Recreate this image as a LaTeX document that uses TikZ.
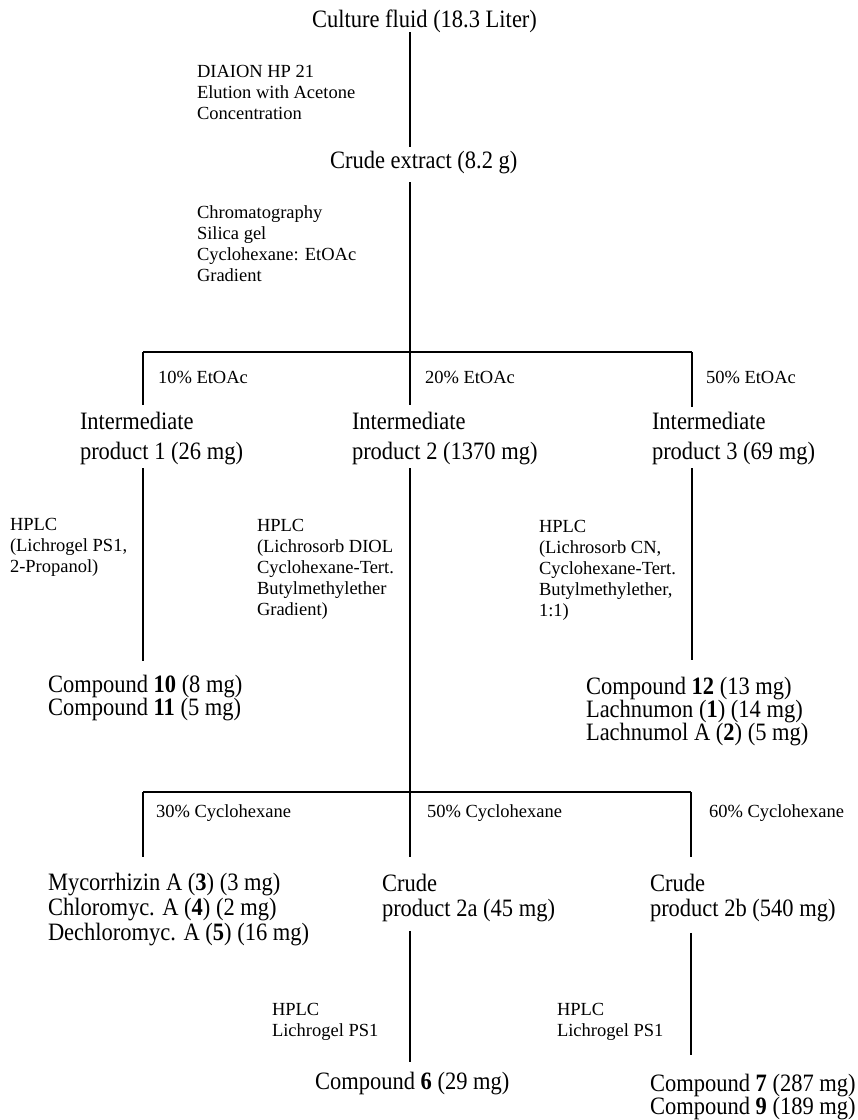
\documentclass[tikz,border=0pt]{standalone}
\usepackage{fontspec}
\setmainfont{Liberation Serif}[FakeStretch=0.9]
\newfontfamily\smallf{Liberation Serif}
\begin{document}
\begin{tikzpicture}[x=1pt,y=-1pt,
  main/.style={anchor=west, inner sep=0pt, outer sep=0pt, align=left, font=\fontsize{25}{23}\selectfont},
  note/.style={anchor=west, inner sep=0pt, outer sep=0pt, align=left, font=\smallf\fontsize{18.5}{21}\selectfont},
  conn/.style={line width=1.3pt, line cap=butt}]
\useasboundingbox (0,0) rectangle (858,1120);
\fill[white] (0,0) rectangle (858,1120);

\coordinate (b1) at (410,352);
\coordinate (b1l) at (143,352);
\coordinate (b1r) at (692,352);
\coordinate (b2) at (410,792);
\coordinate (b2l) at (143,792);
\coordinate (b2r) at (691,792);

% main nodes
\node[main] (cf) at (312,21) {Culture fluid (18.3 Liter)};
\node[main] (ce) at (330,163) {Crude extract (8.2 g)};
\node[main, font=\fontsize{25}{30}\selectfont] (i1) at (80,439) {Intermediate\\product 1 (26 mg)};
\node[main, font=\fontsize{25}{30}\selectfont] (i2) at (352,439) {Intermediate\\product 2 (1370 mg)};
\node[main, font=\fontsize{25}{30}\selectfont] (i3) at (652,439) {Intermediate\\product 3 (69 mg)};
\node[main, font=\fontsize{25}{23}\selectfont] (c1011) at (48,698) {Compound \textbf{10} (8 mg)\\Compound \textbf{11} (5 mg)};
\node[main] (c12) at (586,712) {Compound \textbf{12} (13 mg)\\Lachnumon (\textbf{1}) (14 mg)\\Lachnumol A (\textbf{2}) (5 mg)};
\node[main, font=\fontsize{25}{25}\selectfont] (m345) at (48,910) {Mycorrhizin A (\textbf{3}) (3 mg)\\Chloromyc. A (\textbf{4}) (2 mg)\\Dechloromyc. A (\textbf{5}) (16 mg)};
\node[main, font=\fontsize{25}{25}\selectfont] (cp2a) at (382,898) {Crude\\product 2a (45 mg)};
\node[main, font=\fontsize{25}{25}\selectfont] (cp2b) at (650,898) {Crude\\product 2b (540 mg)};
\node[main] (c6) at (315,1084) {Compound \textbf{6} (29 mg)};
\node[main] (c79) at (650,1097) {Compound \textbf{7} (287 mg)\\Compound \textbf{9} (189 mg)};

% notes
\node[note] (s1) at (197,92) {DIAION HP 21\\Elution with Acetone\\Concentration};
\node[note] (s2) at (197,244) {Chromatography\\Silica gel\\Cyclohexane: EtOAc\\Gradient};
\node[note] (l10) at (158,377) {10\% EtOAc};
\node[note] (l20) at (425,377) {20\% EtOAc};
\node[note] (l50) at (706,377) {50\% EtOAc};
\node[note] (h1) at (10,547) {HPLC\\(Lichrogel PS1,\\2-Propanol)};
\node[note] (h2) at (257,569) {HPLC\\(Lichrosorb DIOL\\Cyclohexane-Tert.\\Butylmethylether\\Gradient)};
\node[note] (h3) at (539,570) {HPLC\\(Lichrosorb CN,\\Cyclohexane-Tert.\\Butylmethylether,\\1:1)};
\node[note] (l30) at (156,813) {30\% Cyclohexane};
\node[note] (l50c) at (427,813) {50\% Cyclohexane};
\node[note] (l60) at (709,813) {60\% Cyclohexane};
\node[note] (h4) at (272,1022) {HPLC\\Lichrogel PS1};
\node[note] (h5) at (557,1022) {HPLC\\Lichrogel PS1};

% connectors
\draw[conn, shorten >=5pt] (cf.south -| b1) -- (ce.north -| b1);
\draw[conn, shorten <=8pt] (ce.south -| b1) -- (b1);
\draw[conn] (b1l) -- (b1r);
\draw[conn, shorten >=8pt] (b1l) -- (i1.north -| b1l);
\draw[conn, shorten >=8pt] (b1) -- (i2.north -| b1);
\draw[conn, shorten >=6pt] (b1r) -- (i3.north -| b1r);
\draw[conn, shorten <=3pt, shorten >=14pt] (i1.south -| b1l) -- (c1011.north -| b1l);
\draw[conn, shorten <=3pt] (i2.south -| b1) -- (b2);
\draw[conn, shorten <=3pt, shorten >=18pt] (i3.south -| b1r) -- (c12.north -| b1r);
\draw[conn] (b2l) -- (b2r);
\draw[conn, shorten >=17pt] (b2l) -- (m345.north -| b2l);
\draw[conn, shorten >=17pt] (b2) -- (cp2a.north -| b2);
\draw[conn, shorten >=17pt] (b2r) -- (cp2b.north -| b2r);
\draw[conn, shorten <=9pt, shorten >=11pt] (cp2a.south -| b2) -- (c6.north -| b2);
\draw[conn, shorten <=11pt, shorten >=19pt] (cp2b.south -| b2r) -- (c79.north -| b2r);
\end{tikzpicture}
\end{document}
